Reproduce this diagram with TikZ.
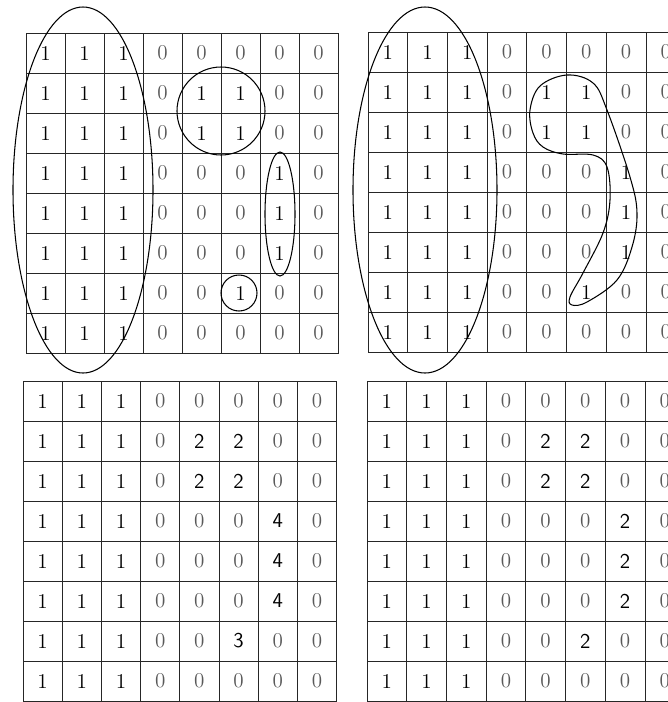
\documentclass[tikz,border=0pt]{standalone}
\usepackage{tikz}
\tikzset{
  grid_cell/.style = {rectangle, draw=black!85, thin, inner sep=0pt,
    minimum height=8mm, font=\large},% une case
  group_line/.style = {black, semithick}% contour d'un groupe
}
% 0 clair, etiquettes > 1 en sans serif
\newcommand{\cellval}[1]{\ifnum#1=0 \textcolor{black!65}{0}\else\ifnum#1>1 \textsf{#1}\else#1\fi\fi}
% #1 nom, #2 x, #3 y (coin haut gauche), #4 largeur d'une case, #5 lignes
\newcommand{\labelgrid}[5]{%
  \foreach \row [count=\r] in {#5} {
    \foreach \v [count=\c] in \row {
      \node [grid_cell, minimum width={#4*0.2mm}] (#1-\r-\c)
        at ({#2+(\c-0.5)*#4}, {#3+(\r-0.5)*40}) {\cellval{\v}};
    }
  }
}
\begin{document}
\begin{tikzpicture}[x=0.2mm, y=-0.2mm]
  \useasboundingbox (0,0) rectangle (668,702);
  \clip (0,0) rectangle (668,702);
  \labelgrid{in}{26}{33}{39}{{1,1,1,0,0,0,0,0},{1,1,1,0,1,1,0,0},{1,1,1,0,1,1,0,0},
    {1,1,1,0,0,0,1,0},{1,1,1,0,0,0,1,0},{1,1,1,0,0,0,1,0},{1,1,1,0,0,1,0,0},{1,1,1,0,0,0,0,0}}
  \labelgrid{link}{368}{32}{39.7}{{1,1,1,0,0,0,0,0},{1,1,1,0,1,1,0,0},{1,1,1,0,1,1,0,0},
    {1,1,1,0,0,0,1,0},{1,1,1,0,0,0,1,0},{1,1,1,0,0,0,1,0},{1,1,1,0,0,1,0,0},{1,1,1,0,0,0,0,0}}
  \labelgrid{four}{23}{381}{39.2}{{1,1,1,0,0,0,0,0},{1,1,1,0,2,2,0,0},{1,1,1,0,2,2,0,0},
    {1,1,1,0,0,0,4,0},{1,1,1,0,0,0,4,0},{1,1,1,0,0,0,4,0},{1,1,1,0,0,3,0,0},{1,1,1,0,0,0,0,0}}
  \labelgrid{eight}{367}{381}{39.7}{{1,1,1,0,0,0,0,0},{1,1,1,0,2,2,0,0},{1,1,1,0,2,2,0,0},
    {1,1,1,0,0,0,2,0},{1,1,1,0,0,0,2,0},{1,1,1,0,0,0,2,0},{1,1,1,0,0,2,0,0},{1,1,1,0,0,0,0,0}}
  % groupes, 4-voisinage
  \draw [group_line] (83,190) ellipse [x radius=14mm, y radius=36.6mm];
  \draw [group_line] (221,111) circle [radius=8.8mm];
  \draw [group_line] (280,214) ellipse [x radius=3mm, y radius=12.4mm];
  \draw [group_line] (239,293) circle [radius=3.6mm];
  % groupes, 8-voisinage
  \draw [group_line] (425,190) ellipse [x radius=14.4mm, y radius=36.6mm];
  \draw [group_line] plot [smooth cycle, tension=0.6] coordinates {(567,75) (540,86)
    (530,110) (533,133) (543,147) (563,154) (593,155) (607,167) (610,200) (603,233)
    (583,273) (570,297) (572,305) (587,302) (617,280) (632,247) (637,213) (630,177)
    (607,110) (593,83)};
\end{tikzpicture}
\end{document}
